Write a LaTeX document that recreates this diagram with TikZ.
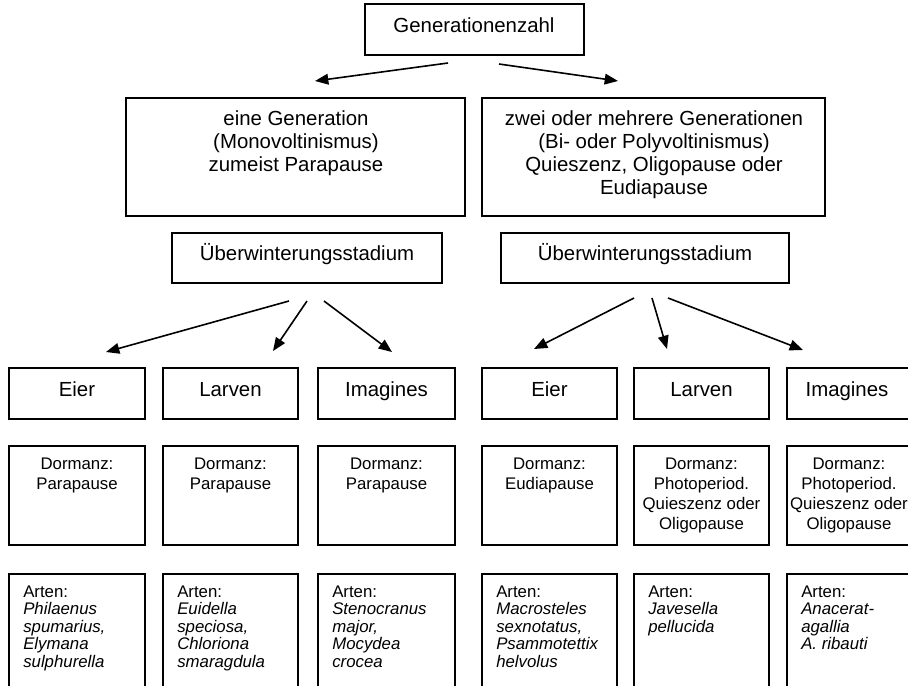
\documentclass[tikz,border=0pt]{standalone}
\usepackage{fontspec}
\setmainfont{Liberation Sans}
\usetikzlibrary{arrows.meta}
\begin{document}
\begin{tikzpicture}[x=0.75pt,y=-0.75pt,
  box/.style={draw=black, line width=1.05pt, inner sep=0pt, outer sep=0pt},
  pbox/.style 2 args={minimum width=#1*0.75pt, minimum height=#2*0.75pt},
  arr/.style={line width=1.2pt, -{Triangle[length=10pt,width=8pt]}},
  big/.style={font=\fontsize{15.3}{17.25}\selectfont, inner sep=0pt, align=center},
  mid/.style={font=\fontsize{12.6}{15}\selectfont, inner sep=0pt, align=center},
  sml/.style={font=\fontsize{12.6}{13.1}\selectfont, inner sep=0pt, align=left},
]
\useasboundingbox (0,0) rectangle (908,686);
\clip (0,0) rectangle (908,686);

% ---------- boxes ----------
\node[box, pbox={219}{51}] (gen) at (474.5,29.5) {};
\node[box, pbox={339}{118}] (b1) at (295.5,157) {};
\node[box, pbox={343}{118}] (b2) at (653.5,157) {};
\node[box, pbox={270}{50}] (ul) at (307,258) {};
\node[box, pbox={288}{50}] (ur) at (645,258) {};

\foreach \n/\c/\w in {1/77/136, 2/230.5/135, 3/386.5/137, 4/549.5/135, 5/701.5/135, 6/853.5/133}{
  \node[box, pbox={\w}{51}] (s\n) at (\c,393.5) {};
  \node[box, pbox={\w}{99}] (d\n) at (\c,495.5) {};
  \node[box, pbox={\w}{146}] (a\n) at (\c,647) {};
}

% ---------- texts ----------
\node[big, anchor=base] (tgen) at (474,32) {Generationenzahl};
\node[big, anchor=north] (tb1) at (296,104.6) {\rule{0pt}{1em}eine Generation\\(Monovoltinismus)\\zumeist Parapause};
\node[big, anchor=north] (tb2) at (654,104.6) {\rule{0pt}{1em}zwei oder mehrere Generationen\\(Bi- oder Polyvoltinismus)\\Quieszenz, Oligopause oder\\Eudiapause};
\node[big, anchor=base] (tul) at (307,260) {Überwinterungsstadium};
\node[big, anchor=base] (tur) at (645,260) {Überwinterungsstadium};

\node[big, anchor=base] (ts1) at (77,396) {Eier};
\node[big, anchor=base] (ts2) at (230.5,396) {Larven};
\node[big, anchor=base] (ts3) at (386.5,396) {Imagines};
\node[big, anchor=base] (ts4) at (549.5,396) {Eier};
\node[big, anchor=base] (ts5) at (701.5,396) {Larven};
\node[big, anchor=base] (ts6) at (847,396) {Imagines};

\node[mid, anchor=north] (td1) at (77,452.2) {\rule{0pt}{1em}Dormanz:\\Parapause};
\node[mid, anchor=north] (td2) at (230.5,452.2) {\rule{0pt}{1em}Dormanz:\\Parapause};
\node[mid, anchor=north] (td3) at (386.5,452.2) {\rule{0pt}{1em}Dormanz:\\Parapause};
\node[mid, anchor=north] (td4) at (549.5,452.2) {\rule{0pt}{1em}Dormanz:\\Eudiapause};
\node[mid, anchor=north] (td5) at (701.5,452.2) {\rule{0pt}{1em}Dormanz:\\Photoperiod.\\Quieszenz oder\\Oligopause};
\node[mid, anchor=north] (td6) at (849,452.2) {\rule{0pt}{1em}Dormanz:\\Photoperiod.\\Quieszenz oder\\Oligopause};

\node[sml, anchor=north west] (ta1) at (23,580.2) {\rule{0pt}{1em}Arten:\\\textit{Philaenus}\\\textit{spumarius,}\\\textit{Elymana}\\\textit{sulphurella}};
\node[sml, anchor=north west] (ta2) at (177,580.2) {\rule{0pt}{1em}Arten:\\\textit{Euidella}\\\textit{speciosa,}\\\textit{Chloriona}\\\textit{smaragdula}};
\node[sml, anchor=north west] (ta3) at (332,580.2) {\rule{0pt}{1em}Arten:\\\textit{Stenocranus}\\\textit{major,}\\\textit{Mocydea}\\\textit{crocea}};
\node[sml, anchor=north west] (ta4) at (496,580.2) {\rule{0pt}{1em}Arten:\\\textit{Macrosteles}\\\textit{sexnotatus,}\\\textit{Psammotettix}\\\textit{helvolus}};
\node[sml, anchor=north west] (ta5) at (648,580.2) {\rule{0pt}{1em}Arten:\\\textit{Javesella}\\\textit{pellucida}};
\node[sml, anchor=north west] (ta6) at (801,580.2) {\rule{0pt}{1em}Arten:\\\textit{Anacerat-}\\\textit{agallia}\\\textit{A. ribauti}};

% ---------- arrow end points ----------
\coordinate (g1s) at (448,63);   \coordinate (g1e) at (315,81);
\coordinate (g2s) at (499,64);   \coordinate (g2e) at (618,81);
\coordinate (l1s) at (289,301);  \coordinate (l1e) at (106,352);
\coordinate (l2s) at (307,301);  \coordinate (l2e) at (273,351);
\coordinate (l3s) at (324,301);  \coordinate (l3e) at (392,352);
\coordinate (r1s) at (634,298);  \coordinate (r1e) at (534,349);
\coordinate (r2s) at (652,298);  \coordinate (r2e) at (667,349);
\coordinate (r3s) at (668,298);  \coordinate (r3e) at (803,350);

\draw[arr] (g1s) -- (g1e);
\draw[arr] (g2s) -- (g2e);
\draw[arr] (l1s) -- (l1e);
\draw[arr] (l2s) -- (l2e);
\draw[arr] (l3s) -- (l3e);
\draw[arr] (r1s) -- (r1e);
\draw[arr] (r2s) -- (r2e);
\draw[arr] (r3s) -- (r3e);
\end{tikzpicture}
\end{document}
